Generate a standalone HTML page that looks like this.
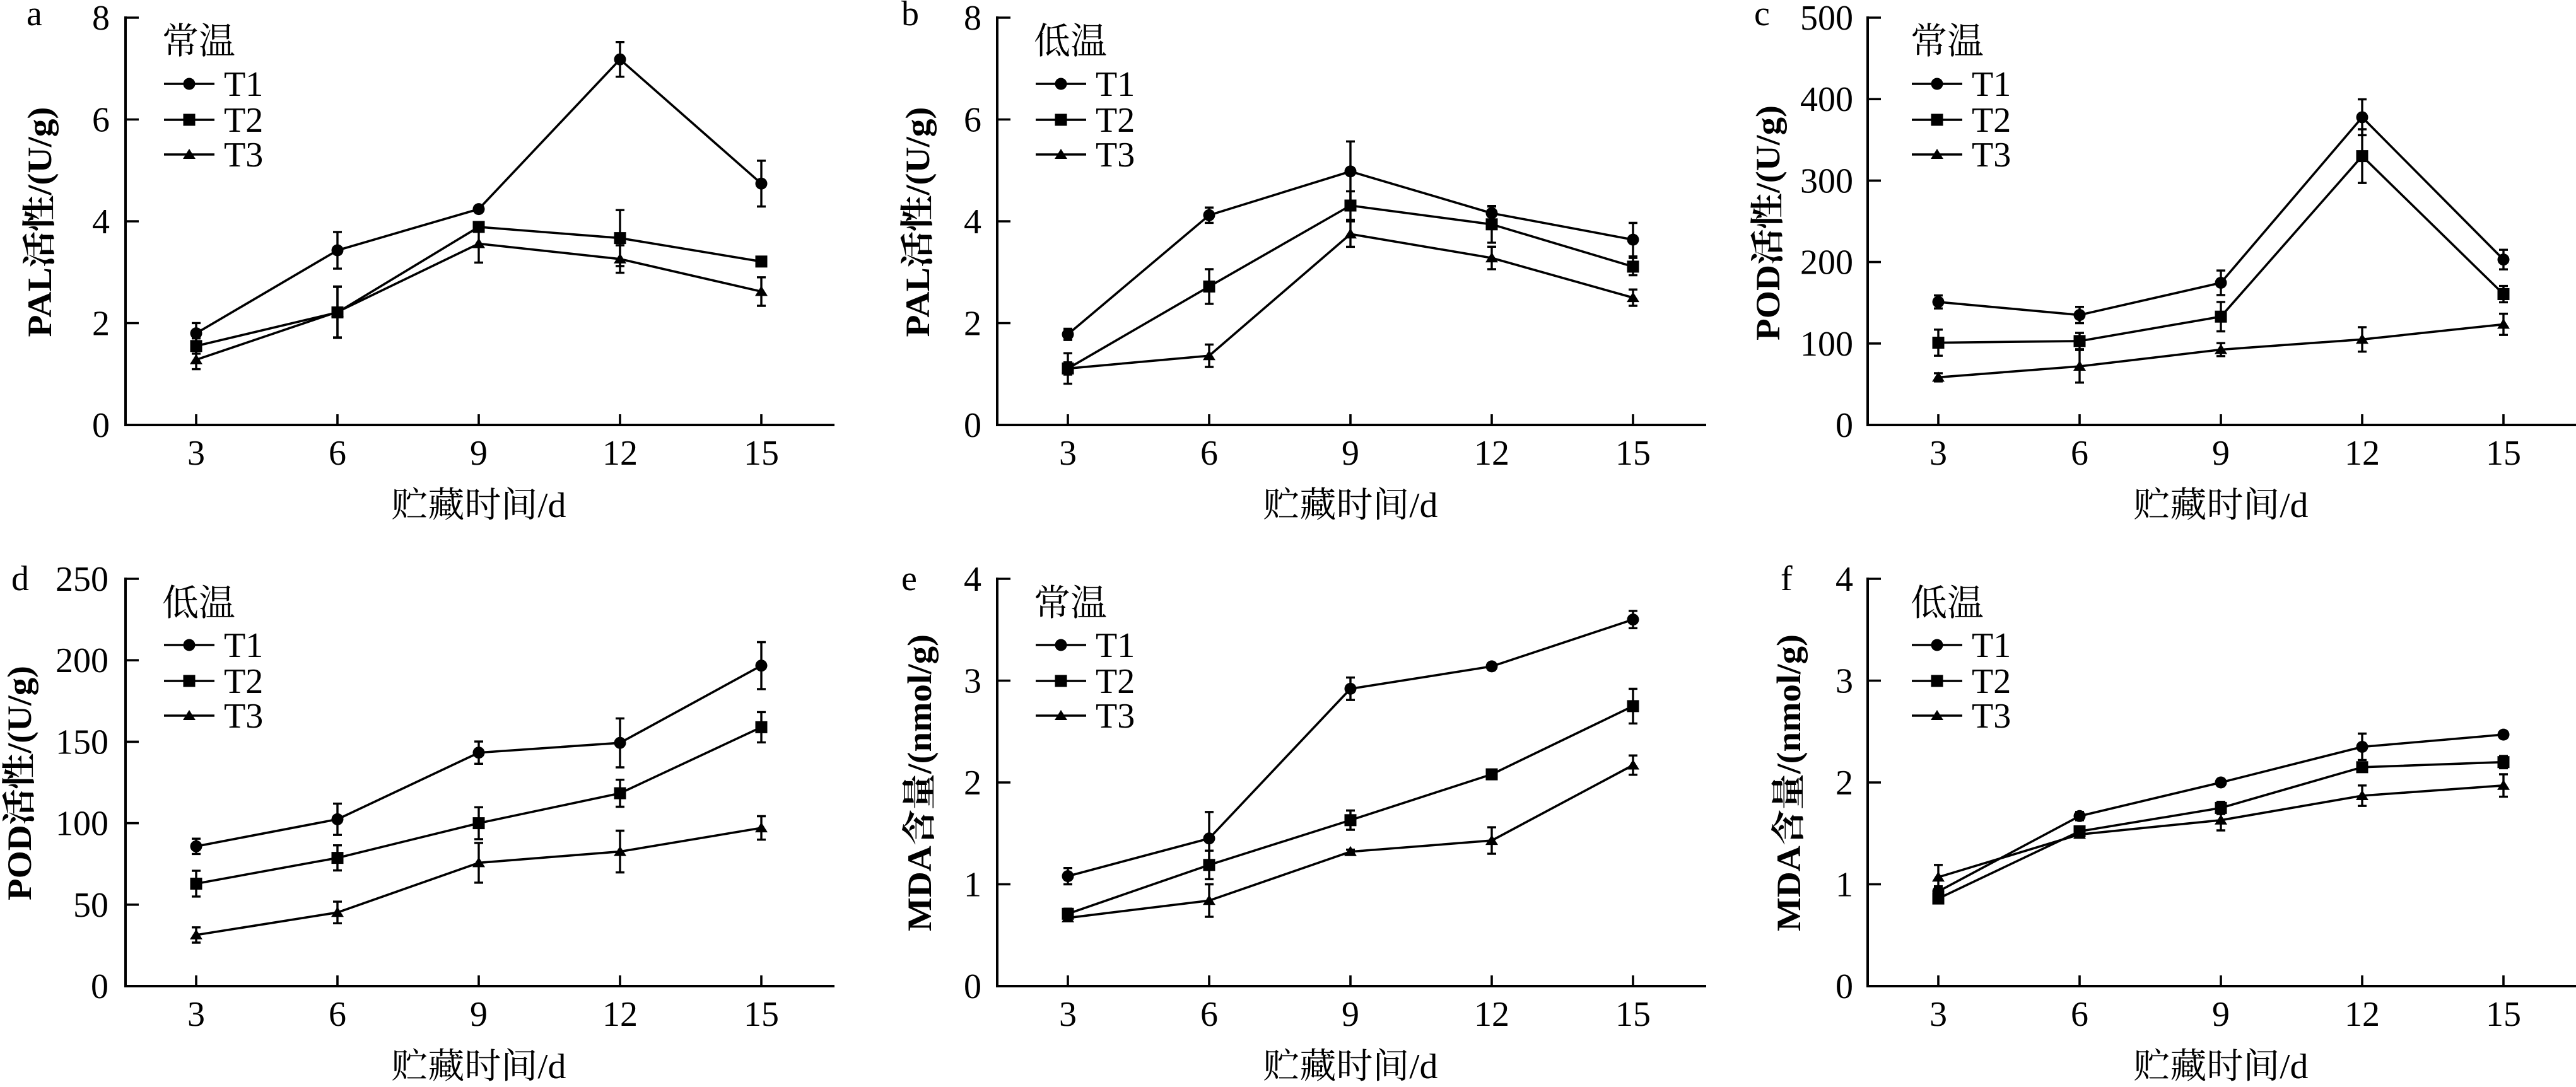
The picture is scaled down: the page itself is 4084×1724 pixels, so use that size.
<!DOCTYPE html>
<html><head><meta charset="utf-8">
<style>
html,body{margin:0;padding:0;background:#fff;}
svg{display:block;font-family:"Liberation Serif","Noto Serif CJK SC",serif;}
text{font-family:"Liberation Serif","Noto Serif CJK SC",serif;fill:#000;}
.ax{fill:none;stroke:#000;stroke-width:4;stroke-linecap:square;}
.tk{fill:none;stroke:#000;stroke-width:3.6;}
.ln{fill:none;stroke:#000;stroke-width:3.6;stroke-linejoin:round;}
.eb{fill:none;stroke:#000;stroke-width:3.4;}
.tl{font-size:56px;}
.yl{font-size:54px;font-weight:bold;}
.xl{font-size:56px;}
.lg{font-size:56px;}
.lt{font-size:58px;}
</style></head>
<body>
<svg width="4084" height="1724" viewBox="0 0 4084 1724" xmlns="http://www.w3.org/2000/svg" font-family="'Liberation Serif','Noto Serif CJK SC',serif">
<defs>
<circle id="mc" cx="0" cy="0" r="9.5" fill="#000"/>
<rect id="ms" x="-9.5" y="-9.5" width="19" height="19" fill="#000"/>
<polygon id="mt" points="0,-9 10,7 -10,7" fill="#000"/>
<g id="xt" font-family="'Liberation Serif','Noto Serif CJK SC',serif" font-size="56" fill="#000">
<path class="ax" d="M199 28V674H1321" fill="none" stroke="#000" stroke-width="4"/>
<path class="tk" d="M311 674V657M535 674V657M759 674V657M983 674V657M1207 674V657" fill="none" stroke="#000" stroke-width="3.6"/>
<text class="tl" x="311" y="737" text-anchor="middle" font-size="56">3</text>
<text class="tl" x="535" y="737" text-anchor="middle" font-size="56">6</text>
<text class="tl" x="759" y="737" text-anchor="middle" font-size="56">9</text>
<text class="tl" x="983" y="737" text-anchor="middle" font-size="56">12</text>
<text class="tl" x="1207" y="737" text-anchor="middle" font-size="56">15</text>
<text class="xl" x="759" y="820" text-anchor="middle" font-size="56" textLength="277" lengthAdjust="spacingAndGlyphs">贮藏时间/d</text>
</g>
<g id="yt4">
<path class="tk" d="M199 28H220M199 189.5H220M199 351H220M199 512.5H220" fill="none" stroke="#000" stroke-width="3.6"/>
</g>
<g id="yt5">
<path class="tk" d="M199 28H220M199 157.2H220M199 286.4H220M199 415.6H220M199 544.8H220" fill="none" stroke="#000" stroke-width="3.6"/>
</g>
<g id="leg" font-family="'Liberation Serif','Noto Serif CJK SC',serif" font-size="56" fill="#000">
<path class="ln" d="M260 133H340M260 190H340M260 245H340" fill="none" stroke="#000" stroke-width="3.6"/>
<use href="#mc" x="300" y="133"/>
<use href="#ms" x="300" y="190"/>
<use href="#mt" x="300" y="245"/>
<text class="lg" x="355" y="152" font-size="56">T1</text>
<text class="lg" x="355" y="209" font-size="56">T2</text>
<text class="lg" x="355" y="264" font-size="56">T3</text>
</g>
</defs>

<!-- Panel a -->
<g transform="translate(0,0)">
<use href="#xt"/><use href="#yt4"/><use href="#leg"/>
<text class="tl" x="174" y="693" text-anchor="end">0</text>
<text class="tl" x="174" y="531.5" text-anchor="end">2</text>
<text class="tl" x="174" y="370" text-anchor="end">4</text>
<text class="tl" x="174" y="208.5" text-anchor="end">6</text>
<text class="tl" x="174" y="47" text-anchor="end">8</text>
<text class="tl" x="42" y="40">a</text>
<text class="lt" x="257" y="85">常温</text>
<text class="yl" transform="translate(81,352) rotate(-90)" text-anchor="middle" textLength="365" lengthAdjust="spacingAndGlyphs">PAL活性/(U/g)</text>
<polyline class="ln" points="311,528.6 535,397 759,331.6 983,94.2 1207,291.2"/>
<polyline class="ln" points="311,548.8 535,495.5 759,359.9 983,377.6 1207,414.8"/>
<polyline class="ln" points="311,570.6 535,494.7 759,386.5 983,410.8 1207,462.4"/>
<path class="eb" d="M311 512.4V544.8M304 512.4h14M304 544.8h14M535 367.9V426.1M528 367.9h14M528 426.1h14M759 326.8V336.4M752 326.8h14M752 336.4h14M983 66.7V121.7M976 66.7h14M976 121.7h14M1207 254.9V327.5M1200 254.9h14M1200 327.5h14"/>
<path class="eb" d="M311 536.7V560.9M304 536.7h14M304 560.9h14M535 455.1V535.9M528 455.1h14M528 535.9h14M759 355.1V364.7M752 355.1h14M752 364.7h14M983 333.2V422M976 333.2h14M976 422h14M1207 408.3V421.3M1200 408.3h14M1200 421.3h14"/>
<path class="eb" d="M311 555.6V585.6M304 555.6h14M304 585.6h14M535 454.3V535.1M528 454.3h14M528 535.1h14M759 356.6V416.4M752 356.6h14M752 416.4h14M983 389V432.6M976 389h14M976 432.6h14M1207 439.8V485M1200 439.8h14M1200 485h14"/>
<use href="#mc" x="311" y="528.6"/><use href="#mc" x="535" y="397"/><use href="#mc" x="759" y="331.6"/><use href="#mc" x="983" y="94.2"/><use href="#mc" x="1207" y="291.2"/>
<use href="#ms" x="311" y="548.8"/><use href="#ms" x="535" y="495.5"/><use href="#ms" x="759" y="359.9"/><use href="#ms" x="983" y="377.6"/><use href="#ms" x="1207" y="414.8"/>
<use href="#mt" x="311" y="570.6"/><use href="#mt" x="535" y="494.7"/><use href="#mt" x="759" y="386.5"/><use href="#mt" x="983" y="410.8"/><use href="#mt" x="1207" y="462.4"/>
</g>

<!-- Panel b -->
<g transform="translate(1382,0)">
<use href="#xt"/><use href="#yt4"/><use href="#leg"/>
<text class="tl" x="174" y="693" text-anchor="end">0</text>
<text class="tl" x="174" y="531.5" text-anchor="end">2</text>
<text class="tl" x="174" y="370" text-anchor="end">4</text>
<text class="tl" x="174" y="208.5" text-anchor="end">6</text>
<text class="tl" x="174" y="47" text-anchor="end">8</text>
<text class="tl" x="47" y="40">b</text>
<text class="lt" x="257" y="85">低温</text>
<text class="yl" transform="translate(91,352) rotate(-90)" text-anchor="middle" textLength="365" lengthAdjust="spacingAndGlyphs">PAL活性/(U/g)</text>
<polyline class="ln" points="311,530.3 535,341.3 759,271.9 983,338.1 1207,380.1"/>
<polyline class="ln" points="311,584.4 535,454.4 759,326 983,355.8 1207,422.9"/>
<polyline class="ln" points="311,584.4 535,564.2 759,371.2 983,409.1 1207,472.1"/>
<path class="eb" d="M311 521.4V539.2M304 521.4h14M304 539.2h14M535 329.2V353.4M528 329.2h14M528 353.4h14M759 224.3V319.5M752 224.3h14M752 319.5h14M983 327.6V348.6M976 327.6h14M976 348.6h14M1207 353.5V406.7M1200 353.5h14M1200 406.7h14"/>
<path class="eb" d="M311 560.2V608.6M304 560.2h14M304 608.6h14M535 426.9V481.9M528 426.9h14M528 481.9h14M759 303.4V348.6M752 303.4h14M752 348.6h14M983 326.7V384.9M976 326.7h14M976 384.9h14M1207 409.2V436.6M1200 409.2h14M1200 436.6h14"/>
<path class="eb" d="M311 574.7V594.1M304 574.7h14M304 594.1h14M535 546.4V582M528 546.4h14M528 582h14M759 351V391.4M752 351h14M752 391.4h14M983 391.3V426.9M976 391.3h14M976 426.9h14M1207 459.2V485M1200 459.2h14M1200 485h14"/>
<use href="#mc" x="311" y="530.3"/><use href="#mc" x="535" y="341.3"/><use href="#mc" x="759" y="271.9"/><use href="#mc" x="983" y="338.1"/><use href="#mc" x="1207" y="380.1"/>
<use href="#ms" x="311" y="584.4"/><use href="#ms" x="535" y="454.4"/><use href="#ms" x="759" y="326"/><use href="#ms" x="983" y="355.8"/><use href="#ms" x="1207" y="422.9"/>
<use href="#mt" x="311" y="584.4"/><use href="#mt" x="535" y="564.2"/><use href="#mt" x="759" y="371.2"/><use href="#mt" x="983" y="409.1"/><use href="#mt" x="1207" y="472.1"/>
</g>

<!-- Panel c -->
<g transform="translate(2762,0)">
<use href="#xt"/><use href="#yt5"/>
<g transform="translate(9,0)"><use href="#leg"/></g>
<text class="tl" x="176" y="693" text-anchor="end">0</text>
<text class="tl" x="176" y="563.8" text-anchor="end">100</text>
<text class="tl" x="176" y="434.6" text-anchor="end">200</text>
<text class="tl" x="176" y="305.4" text-anchor="end">300</text>
<text class="tl" x="176" y="176.2" text-anchor="end">400</text>
<text class="tl" x="176" y="47" text-anchor="end">500</text>
<text class="tl" x="19" y="40">c</text>
<text class="lt" x="267" y="85">常温</text>
<text class="yl" transform="translate(59,353.5) rotate(-90)" text-anchor="middle" textLength="373" lengthAdjust="spacingAndGlyphs">POD活性/(U/g)</text>
<polyline class="ln" points="311,478.9 535,499.6 759,448.5 983,186 1207,411.7"/>
<polyline class="ln" points="311,543.5 535,540.9 759,502.2 983,247.6 1207,466.5"/>
<polyline class="ln" points="311,598.4 535,581 759,554.5 983,538.3 1207,514.4"/>
<path class="eb" d="M311 468.6V489.2M304 468.6h14M304 489.2h14M535 486.7V512.5M528 486.7h14M528 512.5h14M759 429.1V467.9M752 429.1h14M752 467.9h14M983 157.6V214.4M976 157.6h14M976 214.4h14M1207 396.2V427.2M1200 396.2h14M1200 427.2h14"/>
<path class="eb" d="M311 522.8V564.2M304 522.8h14M304 564.2h14M535 528V553.8M528 528h14M528 553.8h14M759 478.9V525.5M752 478.9h14M752 525.5h14M983 205V290.2M976 205h14M976 290.2h14M1207 453.6V479.4M1200 453.6h14M1200 479.4h14"/>
<path class="eb" d="M311 591.9V604.9M304 591.9h14M304 604.9h14M535 555.2V606.8M528 555.2h14M528 606.8h14M759 544.2V564.8M752 544.2h14M752 564.8h14M983 518.9V557.7M976 518.9h14M976 557.7h14M1207 497.6V531.2M1200 497.6h14M1200 531.2h14"/>
<use href="#mc" x="311" y="478.9"/><use href="#mc" x="535" y="499.6"/><use href="#mc" x="759" y="448.5"/><use href="#mc" x="983" y="186"/><use href="#mc" x="1207" y="411.7"/>
<use href="#ms" x="311" y="543.5"/><use href="#ms" x="535" y="540.9"/><use href="#ms" x="759" y="502.2"/><use href="#ms" x="983" y="247.6"/><use href="#ms" x="1207" y="466.5"/>
<use href="#mt" x="311" y="598.4"/><use href="#mt" x="535" y="581"/><use href="#mt" x="759" y="554.5"/><use href="#mt" x="983" y="538.3"/><use href="#mt" x="1207" y="514.4"/>
</g>

<!-- Panel d -->
<g transform="translate(0,890)">
<use href="#xt"/><use href="#yt5"/><use href="#leg"/>
<text class="tl" x="172" y="693" text-anchor="end">0</text>
<text class="tl" x="172" y="563.8" text-anchor="end">50</text>
<text class="tl" x="172" y="434.6" text-anchor="end">100</text>
<text class="tl" x="172" y="305.4" text-anchor="end">150</text>
<text class="tl" x="172" y="176.2" text-anchor="end">200</text>
<text class="tl" x="172" y="47" text-anchor="end">250</text>
<text class="tl" x="18" y="46">d</text>
<text class="lt" x="257" y="86">低温</text>
<text class="yl" transform="translate(49,352) rotate(-90)" text-anchor="middle" textLength="372" lengthAdjust="spacingAndGlyphs">POD活性/(U/g)</text>
<polyline class="ln" points="311,452.3 535,409.4 759,303.7 983,288.2 1207,165.7"/>
<polyline class="ln" points="311,511.5 535,470.6 759,415.6 983,368.1 1207,263.4"/>
<polyline class="ln" points="311,592.9 535,557.2 759,478.4 983,460.6 1207,423.1"/>
<path class="eb" d="M311 440.2V464.4M304 440.2h14M304 464.4h14M535 384.6V434.2M528 384.6h14M528 434.2h14M759 286.1V321.3M752 286.1h14M752 321.3h14M983 249.4V327M976 249.4h14M976 327h14M1207 128.5V202.9M1200 128.5h14M1200 202.9h14"/>
<path class="eb" d="M311 491.1V531.9M304 491.1h14M304 531.9h14M535 450.7V490.5M528 450.7h14M528 490.5h14M759 390.3V440.9M752 390.3h14M752 440.9h14M983 346.7V389.5M976 346.7h14M976 389.5h14M1207 239.4V287.4M1200 239.4h14M1200 287.4h14"/>
<path class="eb" d="M311 580.8V605M304 580.8h14M304 605h14M535 540.1V574.3M528 540.1h14M528 574.3h14M759 446.9V509.9M752 446.9h14M752 509.9h14M983 427.5V493.7M976 427.5h14M976 493.7h14M1207 404.5V441.7M1200 404.5h14M1200 441.7h14"/>
<use href="#mc" x="311" y="452.3"/><use href="#mc" x="535" y="409.4"/><use href="#mc" x="759" y="303.7"/><use href="#mc" x="983" y="288.2"/><use href="#mc" x="1207" y="165.7"/>
<use href="#ms" x="311" y="511.5"/><use href="#ms" x="535" y="470.6"/><use href="#ms" x="759" y="415.6"/><use href="#ms" x="983" y="368.1"/><use href="#ms" x="1207" y="263.4"/>
<use href="#mt" x="311" y="592.9"/><use href="#mt" x="535" y="557.2"/><use href="#mt" x="759" y="478.4"/><use href="#mt" x="983" y="460.6"/><use href="#mt" x="1207" y="423.1"/>
</g>

<!-- Panel e -->
<g transform="translate(1382,890)">
<use href="#xt"/><use href="#yt4"/><use href="#leg"/>
<text class="tl" x="174" y="693" text-anchor="end">0</text>
<text class="tl" x="174" y="531.5" text-anchor="end">1</text>
<text class="tl" x="174" y="370" text-anchor="end">2</text>
<text class="tl" x="174" y="208.5" text-anchor="end">3</text>
<text class="tl" x="174" y="47" text-anchor="end">4</text>
<text class="tl" x="47" y="46">e</text>
<text class="lt" x="257" y="86">常温</text>
<text class="yl" transform="translate(94,351.5) rotate(-90)" text-anchor="middle" textLength="471" lengthAdjust="spacingAndGlyphs">MDA含量/(nmol/g)</text>
<polyline class="ln" points="311,499.6 535,439.8 759,202.4 983,166.9 1207,92.6"/>
<polyline class="ln" points="311,559.3 535,481.8 759,410.8 983,338.1 1207,229.9"/>
<polyline class="ln" points="311,565.8 535,538.3 759,460.8 983,443.1 1207,323.5"/>
<path class="eb" d="M311 486.7V512.5M304 486.7h14M304 512.5h14M535 397.8V481.8M528 397.8h14M528 481.8h14M759 184.6V220.2M752 184.6h14M752 220.2h14M983 162.1V171.7M976 162.1h14M976 171.7h14M1207 78.9V106.3M1200 78.9h14M1200 106.3h14"/>
<path class="eb" d="M311 551.2V567.4M304 551.2h14M304 567.4h14M535 459.2V504.4M528 459.2h14M528 504.4h14M759 395.5V426.1M752 395.5h14M752 426.1h14M983 333.3V342.9M976 333.3h14M976 342.9h14M1207 202.4V257.4M1200 202.4h14M1200 257.4h14"/>
<path class="eb" d="M311 561V570.6M304 561h14M304 570.6h14M535 512.5V564.1M528 512.5h14M528 564.1h14M759 457.6V464M752 457.6h14M752 464h14M983 422.1V464.1M976 422.1h14M976 464.1h14M1207 308.2V338.8M1200 308.2h14M1200 338.8h14"/>
<use href="#mc" x="311" y="499.6"/><use href="#mc" x="535" y="439.8"/><use href="#mc" x="759" y="202.4"/><use href="#mc" x="983" y="166.9"/><use href="#mc" x="1207" y="92.6"/>
<use href="#ms" x="311" y="559.3"/><use href="#ms" x="535" y="481.8"/><use href="#ms" x="759" y="410.8"/><use href="#ms" x="983" y="338.1"/><use href="#ms" x="1207" y="229.9"/>
<use href="#mt" x="311" y="565.8"/><use href="#mt" x="535" y="538.3"/><use href="#mt" x="759" y="460.8"/><use href="#mt" x="983" y="443.1"/><use href="#mt" x="1207" y="323.5"/>
</g>

<!-- Panel f -->
<g transform="translate(2762,890)">
<use href="#xt"/><use href="#yt4"/>
<g transform="translate(9,0)"><use href="#leg"/></g>
<text class="tl" x="176" y="693" text-anchor="end">0</text>
<text class="tl" x="176" y="531.5" text-anchor="end">1</text>
<text class="tl" x="176" y="370" text-anchor="end">2</text>
<text class="tl" x="176" y="208.5" text-anchor="end">3</text>
<text class="tl" x="176" y="47" text-anchor="end">4</text>
<text class="tl" x="61" y="46">f</text>
<text class="lt" x="267" y="86">低温</text>
<text class="yl" transform="translate(92,351.5) rotate(-90)" text-anchor="middle" textLength="471" lengthAdjust="spacingAndGlyphs">MDA含量/(nmol/g)</text>
<polyline class="ln" points="311,523.8 535,404.3 759,351 983,294.5 1207,275.1"/>
<polyline class="ln" points="311,535.1 535,428.5 759,391.4 983,326.8 1207,318.7"/>
<polyline class="ln" points="311,501.2 535,433.4 759,410.8 983,372 1207,355.8"/>
<path class="eb" d="M311 515.7V531.9M304 515.7h14M304 531.9h14M535 397.8V410.8M528 397.8h14M528 410.8h14M759 347.8V354.2M752 347.8h14M752 354.2h14M983 273.5V315.5M976 273.5h14M976 315.5h14M1207 271.9V278.3M1200 271.9h14M1200 278.3h14"/>
<path class="eb" d="M311 528.6V541.6M304 528.6h14M304 541.6h14M535 422V435M528 422h14M528 435h14M759 381.7V401.1M752 381.7h14M752 401.1h14M983 322V331.6M976 322h14M976 331.6h14M1207 309V328.4M1200 309h14M1200 328.4h14"/>
<path class="eb" d="M311 481.8V520.6M304 481.8h14M304 520.6h14M535 428.6V438.2M528 428.6h14M528 438.2h14M759 394.6V427M752 394.6h14M752 427h14M983 355.8V388.2M976 355.8h14M976 388.2h14M1207 338V373.6M1200 338h14M1200 373.6h14"/>
<use href="#mc" x="311" y="523.8"/><use href="#mc" x="535" y="404.3"/><use href="#mc" x="759" y="351"/><use href="#mc" x="983" y="294.5"/><use href="#mc" x="1207" y="275.1"/>
<use href="#ms" x="311" y="535.1"/><use href="#ms" x="535" y="428.5"/><use href="#ms" x="759" y="391.4"/><use href="#ms" x="983" y="326.8"/><use href="#ms" x="1207" y="318.7"/>
<use href="#mt" x="311" y="501.2"/><use href="#mt" x="535" y="433.4"/><use href="#mt" x="759" y="410.8"/><use href="#mt" x="983" y="372"/><use href="#mt" x="1207" y="355.8"/>
</g>
</svg>
</body></html>
